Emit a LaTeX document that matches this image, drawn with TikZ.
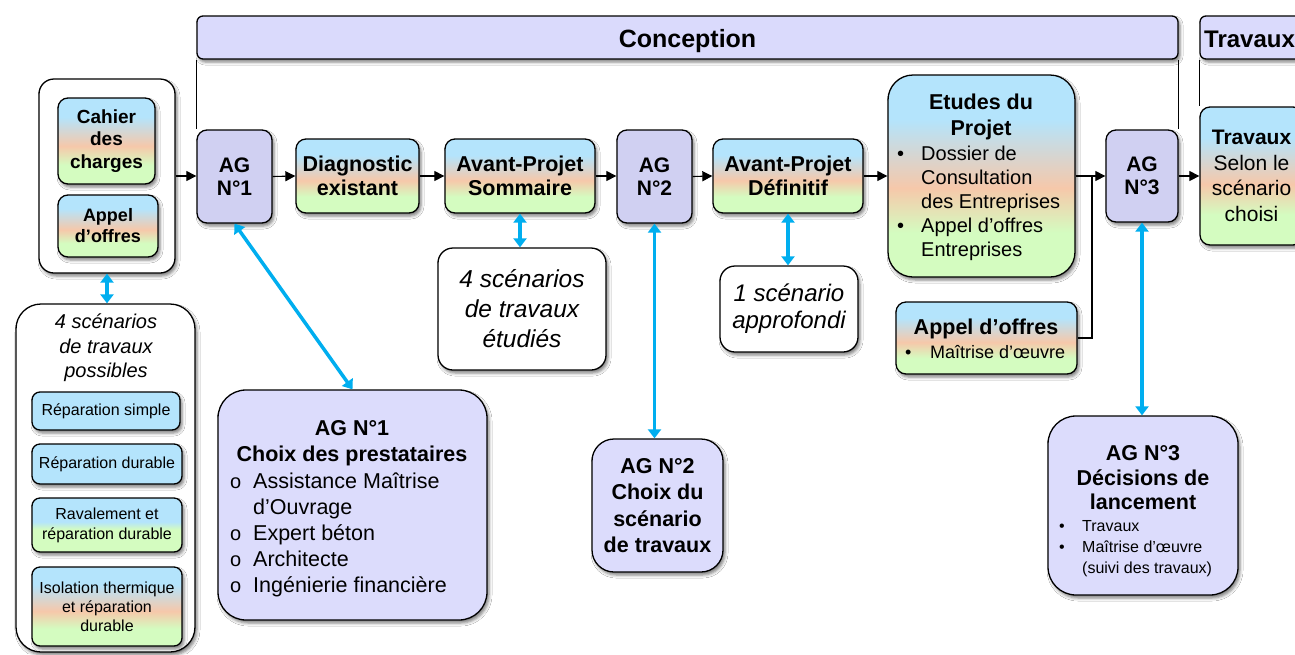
\documentclass[tikz,border=0pt]{standalone}
\usepackage{fontspec}
\setmainfont{Liberation Sans}
\usetikzlibrary{arrows.meta,shadows.blur,calc}
\definecolor{cbl}{RGB}{180,228,252}
\definecolor{cpe}{RGB}{246,200,170}
\definecolor{cgr}{RGB}{212,252,192}
\definecolor{cag}{RGB}{208,208,242}
\definecolor{cagd}{RGB}{220,220,252}
\definecolor{cbar}{RGB}{218,218,252}
\definecolor{cblue}{RGB}{0,174,239}
\pgfdeclareverticalshading{tri}{100bp}{color(0bp)=(cgr); color(36bp)=(cgr); color(47bp)=(cpe); color(64bp)=(cbl); color(100bp)=(cbl)}
\pgfdeclareverticalshading{bgsh}{100bp}{color(0bp)=(cgr); color(46bp)=(cgr); color(53bp)=(cbl); color(100bp)=(cbl)}
\newcommand\fz[2]{\fontsize{#1pt}{#2pt}\selectfont}
\newcommand\obul{{\fz{20}{20}o}}
\begin{document}
\begin{tikzpicture}[x=1pt,y=-1pt,
  box/.style={draw, line width=1.3pt, rounded corners=10pt, inner sep=0pt, align=center,
    blur shadow={shadow xshift=2pt,shadow yshift=-3pt,shadow blur radius=3pt,shadow opacity=50}},
  grad/.style={box, shading=tri},
  agb/.style={box, fill=cag, font=\bfseries\fz{21}{23.5}},
  det/.style={box, fill=cagd, rounded corners=28pt},
  wbox/.style={box, fill=white, rounded corners=15pt},
  txt/.style={inner sep=0pt, align=center},
  lst/.style={inner sep=0pt, anchor=north west},
  arr/.style={line width=1.1pt, -{Triangle[length=10pt,width=10pt]}},
  con/.style={line width=1.1pt},
  thinl/.style={line width=0.8pt},
  barr/.style={line width=3.5pt, cblue, {Triangle[length=9pt,width=13pt]}-{Triangle[length=9pt,width=13pt]}}
]
\fill[white] (0,0) rectangle (1295,654);
\useasboundingbox (0,0) rectangle (1295,654);

% top bars
\node[box, fill=cbar, rounded corners=6pt, minimum width=981pt, minimum height=43pt] (conc) at (687.5,37.5) {};
\node[txt, anchor=base, font=\bfseries\fz{25}{28}] (concT) at (687.5,47) {Conception};
\node[box, fill=cbar, rounded corners=6pt, minimum width=120pt, minimum height=43pt] (travbar) at (1260,37.5) {};
\node[txt, anchor=base west, font=\bfseries\fz{24}{28}] (travbarT) at (1204,47) {Travaux};

% left input box
\node[wbox, minimum width=136pt, minimum height=194pt] (cahOuter) at (107,176) {};
\node[grad, minimum width=97pt, minimum height=86pt, font=\bfseries\fz{19}{22.5}] (cah) at (106.5,141) {Cahier\\des\\charges};
\node[grad, minimum width=100pt, minimum height=62pt, font=\bfseries\fz{18}{21}] (app1) at (108,226) {Appel\\d’offres};

% main row
\node[agb, minimum width=75pt, minimum height=93pt] (ag1) at (234.5,176.5) {AG\\N°1};
\node[grad, minimum width=123pt, minimum height=74pt, font=\bfseries\fz{21.5}{24}] (diag) at (357.5,176) {Diagnostic\\existant};
\node[grad, minimum width=150pt, minimum height=74pt, font=\bfseries\fz{21.5}{24}] (aps) at (520,176) {Avant-Projet\\Sommaire};
\node[agb, minimum width=75pt, minimum height=93pt] (ag2) at (654.5,176.5) {AG\\N°2};
\node[grad, minimum width=150pt, minimum height=74pt, font=\bfseries\fz{21.5}{24}] (apd) at (788,176) {Avant-Projet\\Définitif};
\node[grad, rounded corners=25pt, minimum width=187pt, minimum height=202pt] (etu) at (981.5,176) {};
\node[txt, font=\bfseries\fz{21.5}{26}] (etuT) at (981,117) {Etudes du\\Projet};
\node[lst, font=\fz{20}{24}] (etuL) at (897,143.4) {\begin{tabular}{@{}p{24pt}@{}l@{}}\textbullet & Dossier de\\ & Consultation\\ & des Entreprises\\ \textbullet & Appel d’offres\\ & Entreprises\end{tabular}};
\node[grad, minimum width=181pt, minimum height=72pt] (moe) at (986.5,338) {};
\node[txt, font=\bfseries\fz{21.5}{24}] (moeT) at (986,329) {Appel d’offres};
\node[txt, anchor=west, font=\fz{18}{20}] (moeL) at (905,352) {\makebox[25pt][l]{\textbullet}Maîtrise d’œuvre};
\node[agb, minimum width=72pt, minimum height=92pt] (ag3) at (1142,176) {AG\\N°3};
\node[grad, minimum width=103pt, minimum height=138pt, font=\fz{21}{25.5}] (trav) at (1251.5,176) {\textbf{Travaux}\\Selon le\\scénario\\choisi};

% scenario boxes
\node[wbox, minimum width=168pt, minimum height=122pt, font=\itshape\fz{24.5}{30}] (sc4) at (522,309) {4 scénarios\\de travaux\\étudiés};
\node[wbox, minimum width=138pt, minimum height=86pt, font=\itshape\fz{24}{27}] (sc1) at (789,309) {1 scénario\\approfondi};

% left scenarios list
\node[wbox, rounded corners=25pt, minimum width=179pt, minimum height=348pt] (left) at (105.5,478) {};
\node[txt, font=\itshape\fz{20}{24.5}] (leftT) at (106,348) {4 scénarios\\de travaux\\possibles};
\node[box, fill=cbl, rounded corners=8pt, minimum width=148pt, minimum height=38pt, font=\fz{16}{20}] (r1) at (106,411) {Réparation simple};
\node[box, fill=cbl, rounded corners=8pt, minimum width=150pt, minimum height=40pt, font=\fz{16}{20}] (r2) at (107,464) {Réparation durable};
\node[box, shading=bgsh, rounded corners=8pt, minimum width=150pt, minimum height=54pt, font=\fz{16}{20}] (r3) at (107,525) {Ravalement et\\réparation durable};
\node[box, shading=tri, rounded corners=8pt, minimum width=150pt, minimum height=79pt, font=\fz{16}{19}] (r4) at (107,606.5) {Isolation thermique\\et réparation\\durable};

% AG detail boxes
\node[det, minimum width=269pt, minimum height=230pt] (ag1d) at (352.5,505) {};
\node[txt, font=\bfseries\fz{21.5}{26}] (ag1dT) at (352,443) {AG N°1\\Choix des prestataires};
\node[lst, font=\fz{21.5}{26}] (ag1dL) at (230,470.5) {\begin{tabular}{@{}p{23pt}@{}l@{}}\obul & Assistance Maîtrise\\ & d’Ouvrage\\ \obul & Expert béton\\ \obul & Architecte\\ \obul & Ingénierie financière\end{tabular}};
\node[det, rounded corners=22pt, minimum width=131pt, minimum height=133pt, font=\bfseries\fz{21.5}{26.5}] (ag2d) at (657.5,505.5) {AG N°2\\Choix du\\scénario\\de travaux};
\node[det, minimum width=190pt, minimum height=179pt] (ag3d) at (1143,505.5) {};
\node[txt, font=\bfseries\fz{21.5}{24.5}] (ag3dT) at (1143,478) {AG N°3\\Décisions de\\lancement};
\node[lst, font=\fz{16}{21}] (ag3dL) at (1059,517) {\begin{tabular}{@{}p{23pt}@{}l@{}}\textbullet & Travaux\\ \textbullet & Maîtrise d’œuvre\\ & (suivi des travaux)\end{tabular}};

% black connectors
\draw[arr] (cahOuter.east) -- (ag1.west |- cahOuter.east);
\draw[arr] (ag1.east) -- (diag.west);
\draw[arr] (diag.east) -- (aps.west);
\draw[arr] (aps.east) -- (ag2.west |- aps.east);
\draw[arr] (ag2.east) -- (apd.west);
\draw[arr] (apd.east) -- (etu.west);
\draw[arr] (etu.east) -- (ag3.west);
\coordinate (jn) at (1092,176);
\draw[con] (moe.east) -| (jn);
\draw[arr] (ag3.east) -- (trav.west);
\draw[thinl] (conc.south west) -- (ag1.north west);
\draw[thinl] (conc.south east) -- (ag3.north east);
\draw[thinl] (travbar.south west) -- (trav.north west);

% blue double arrows
\draw[barr] (cahOuter.south) -- (cahOuter.south |- left.north);
\draw[barr] (ag1.south) -- (ag1d.north);
\draw[barr] (aps.south) -- (aps.south |- sc4.north);
\draw[barr] (ag2.south) -- (ag2.south |- ag2d.north);
\draw[barr] (apd.south) -- (apd.south |- sc1.north);
\draw[barr] (ag3.south) -- (ag3.south |- ag3d.north);
\end{tikzpicture}
\end{document}
